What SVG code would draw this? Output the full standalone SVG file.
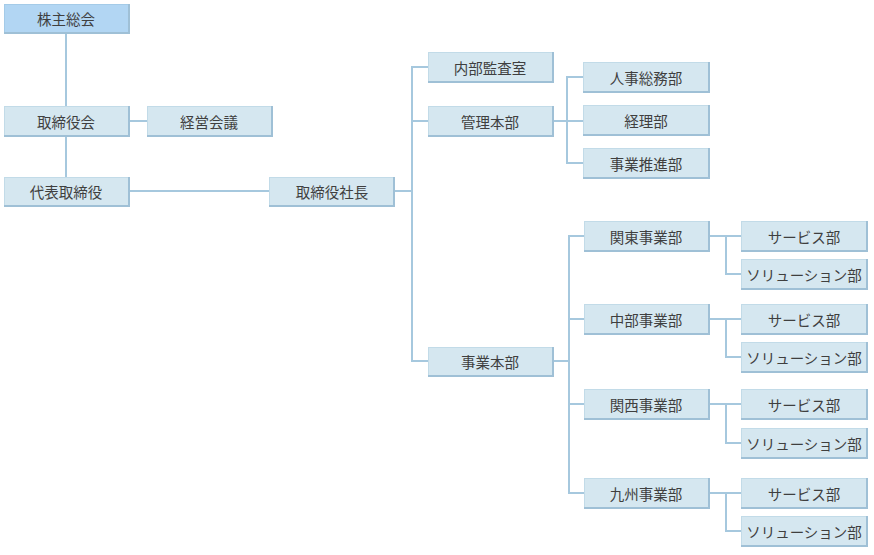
<svg xmlns="http://www.w3.org/2000/svg" width="874" height="555" viewBox="0 0 874 555">
<style>
.b rect.f{fill:#d5e7f0;stroke:#c2dbe8;stroke-width:1}
.b line.s{stroke:#9fc0d6;stroke-width:2}
.top rect.f{fill:#b2d6f3;stroke:#a4cbe8}
text{font-family:"Noto Sans CJK JP","Noto Sans",sans-serif;font-size:14.5px;fill:#3f3f3f;text-anchor:middle;dominant-baseline:central}
.c{stroke:#a6c8de;stroke-width:2;fill:none}
</style>
<rect width="874" height="555" fill="#fff"/>
<g id="connectors">
<path class="c" d="M66 33V106M129 121H147M66 136V177M129 191H269"/>
<path class="c" d="M395 191H412M428 67H412V361H428M412 121H428"/>
<path class="c" d="M553 121H583M583 77H567V163H583"/>
<path class="c" d="M553 361H569M584 236H569V493H584M569 319H584M569 404H584"/>
<path class="c" d="M709 236H741M726 236V274H741"/>
<path class="c" d="M709 319H741M726 319V357H741"/>
<path class="c" d="M709 404H741M726 404V443H741"/>
<path class="c" d="M709 493H741M726 493V531H741"/>
</g>
<g id="n1" class="b top"><rect class="f" x="4.5" y="4.5" width="124" height="28"/><line class="s" x1="4" y1="33" x2="129" y2="33"/><line class="s" x1="129" y1="4" x2="129" y2="34"/><text x="66" y="18">株主総会</text></g>
<g id="n2" class="b"><rect class="f" x="4.5" y="106.5" width="124" height="29"/><line class="s" x1="4" y1="136" x2="129" y2="136"/><line class="s" x1="129" y1="106" x2="129" y2="137"/><text x="66" y="121">取締役会</text></g>
<g id="n3" class="b"><rect class="f" x="147.5" y="106.5" width="124" height="29"/><line class="s" x1="147" y1="136" x2="272" y2="136"/><line class="s" x1="272" y1="106" x2="272" y2="137"/><text x="209" y="121">経営会議</text></g>
<g id="n4" class="b"><rect class="f" x="4.5" y="177.5" width="124" height="28"/><line class="s" x1="4" y1="206" x2="129" y2="206"/><line class="s" x1="129" y1="177" x2="129" y2="207"/><text x="66" y="191">代表取締役</text></g>
<g id="n5" class="b"><rect class="f" x="269.5" y="177.5" width="124" height="28"/><line class="s" x1="269" y1="206" x2="394" y2="206"/><line class="s" x1="394" y1="177" x2="394" y2="207"/><text x="332" y="191">取締役社長</text></g>
<g id="n6" class="b"><rect class="f" x="428.5" y="52.5" width="124" height="29"/><line class="s" x1="428" y1="82" x2="553" y2="82"/><line class="s" x1="553" y1="52" x2="553" y2="83"/><text x="490" y="67">内部監査室</text></g>
<g id="n7" class="b"><rect class="f" x="428.5" y="106.5" width="124" height="29"/><line class="s" x1="428" y1="136" x2="553" y2="136"/><line class="s" x1="553" y1="106" x2="553" y2="137"/><text x="490" y="121">管理本部</text></g>
<g id="n8" class="b"><rect class="f" x="428.5" y="347.5" width="124" height="28"/><line class="s" x1="428" y1="376" x2="553" y2="376"/><line class="s" x1="553" y1="347" x2="553" y2="377"/><text x="490" y="361">事業本部</text></g>
<g id="n9" class="b"><rect class="f" x="583.5" y="62.5" width="125" height="29"/><line class="s" x1="583" y1="92" x2="709" y2="92"/><line class="s" x1="709" y1="62" x2="709" y2="93"/><text x="646" y="77">人事総務部</text></g>
<g id="n10" class="b"><rect class="f" x="583.5" y="105.5" width="125" height="29"/><line class="s" x1="583" y1="135" x2="709" y2="135"/><line class="s" x1="709" y1="105" x2="709" y2="136"/><text x="646" y="120">経理部</text></g>
<g id="n11" class="b"><rect class="f" x="583.5" y="148.5" width="125" height="29"/><line class="s" x1="583" y1="178" x2="709" y2="178"/><line class="s" x1="709" y1="148" x2="709" y2="179"/><text x="646" y="163">事業推進部</text></g>
<g id="n12" class="b"><rect class="f" x="584.5" y="221.5" width="124" height="29"/><line class="s" x1="584" y1="251" x2="709" y2="251"/><line class="s" x1="709" y1="221" x2="709" y2="252"/><text x="646" y="236">関東事業部</text></g>
<g id="n13" class="b"><rect class="f" x="584.5" y="304.5" width="124" height="29"/><line class="s" x1="584" y1="334" x2="709" y2="334"/><line class="s" x1="709" y1="304" x2="709" y2="335"/><text x="646" y="319">中部事業部</text></g>
<g id="n14" class="b"><rect class="f" x="584.5" y="389.5" width="124" height="29"/><line class="s" x1="584" y1="419" x2="709" y2="419"/><line class="s" x1="709" y1="389" x2="709" y2="420"/><text x="646" y="404">関西事業部</text></g>
<g id="n15" class="b"><rect class="f" x="584.5" y="478.5" width="124" height="29"/><line class="s" x1="584" y1="508" x2="709" y2="508"/><line class="s" x1="709" y1="478" x2="709" y2="509"/><text x="646" y="493">九州事業部</text></g>
<g id="n16" class="b"><rect class="f" x="741.5" y="221.5" width="125" height="29"/><line class="s" x1="741" y1="251" x2="867" y2="251"/><line class="s" x1="867" y1="221" x2="867" y2="252"/><text x="804" y="236">サービス部</text></g>
<g id="n17" class="b"><rect class="f" x="741.5" y="259.5" width="125" height="29"/><line class="s" x1="741" y1="289" x2="867" y2="289"/><line class="s" x1="867" y1="259" x2="867" y2="290"/><text x="804" y="274">ソリューション部</text></g>
<g id="n18" class="b"><rect class="f" x="741.5" y="304.5" width="125" height="29"/><line class="s" x1="741" y1="334" x2="867" y2="334"/><line class="s" x1="867" y1="304" x2="867" y2="335"/><text x="804" y="319">サービス部</text></g>
<g id="n19" class="b"><rect class="f" x="741.5" y="342.5" width="125" height="29"/><line class="s" x1="741" y1="372" x2="867" y2="372"/><line class="s" x1="867" y1="342" x2="867" y2="373"/><text x="804" y="357">ソリューション部</text></g>
<g id="n20" class="b"><rect class="f" x="741.5" y="389.5" width="125" height="29"/><line class="s" x1="741" y1="419" x2="867" y2="419"/><line class="s" x1="867" y1="389" x2="867" y2="420"/><text x="804" y="404">サービス部</text></g>
<g id="n21" class="b"><rect class="f" x="741.5" y="428.5" width="125" height="29"/><line class="s" x1="741" y1="458" x2="867" y2="458"/><line class="s" x1="867" y1="428" x2="867" y2="459"/><text x="804" y="443">ソリューション部</text></g>
<g id="n22" class="b"><rect class="f" x="741.5" y="478.5" width="125" height="29"/><line class="s" x1="741" y1="508" x2="867" y2="508"/><line class="s" x1="867" y1="478" x2="867" y2="509"/><text x="804" y="493">サービス部</text></g>
<g id="n23" class="b"><rect class="f" x="741.5" y="516.5" width="125" height="29"/><line class="s" x1="741" y1="546" x2="867" y2="546"/><line class="s" x1="867" y1="516" x2="867" y2="547"/><text x="804" y="531">ソリューション部</text></g>
</svg>
